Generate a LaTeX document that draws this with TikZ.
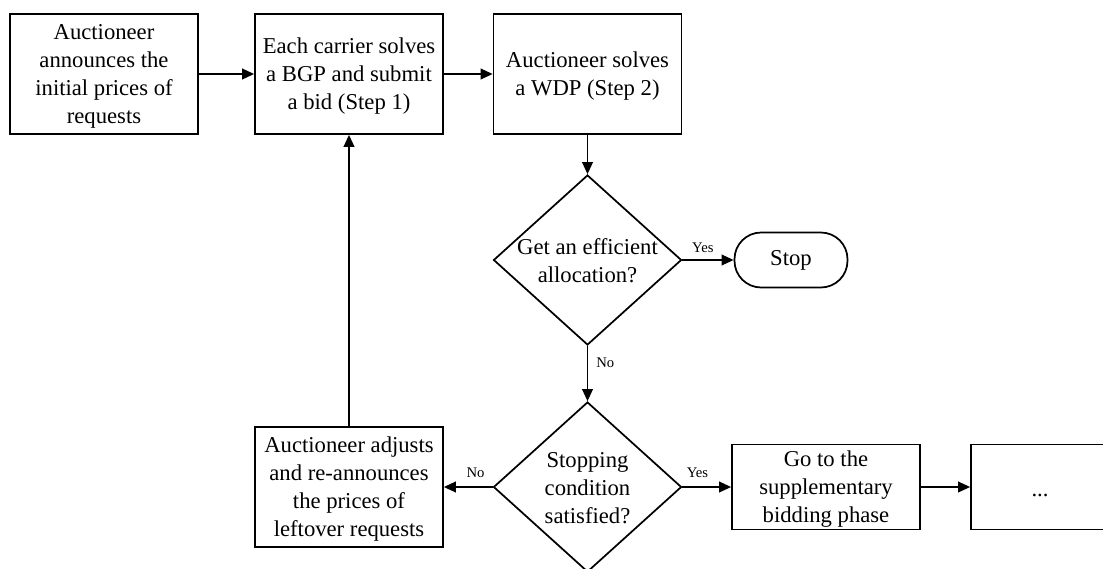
\documentclass[tikz,border=0pt]{standalone}
\usepackage{fontspec}
\setmainfont{Liberation Serif}
\usetikzlibrary{shapes.geometric,arrows.meta}
\begin{document}
\begin{tikzpicture}[x=0.75pt,y=-0.75pt,
  box/.style={draw, line width=1.3pt, minimum width=141pt, minimum height=90pt, inner sep=0pt, align=center, text depth=-1pt, font=\fontsize{17}{21}\selectfont},
  smallbox/.style={box, minimum height=63.75pt},
  decision/.style={draw, diamond, line width=1.3pt, minimum width=141pt, minimum height=127.5pt, inner sep=0pt},
  dtext/.style={align=center, font=\fontsize{17}{21}\selectfont, inner sep=0pt},
  terminal/.style={draw, line width=1.3pt, rounded corners=20pt, minimum width=84.75pt, minimum height=41.25pt, inner sep=0pt, font=\fontsize{17}{21}\selectfont},
  lbl/.style={font=\fontsize{11}{13}\selectfont, inner sep=0pt},
  arr/.style={line width=1.3pt, -{Triangle[length=9pt,width=8pt]}}
]
\useasboundingbox (0,0) rectangle (1103,568);
\node[box] (b1) at (104,74) {Auctioneer\\announces the\\initial prices of\\requests};
\node[box] (b2) at (349,74) {Each carrier solves\\a BGP and submit\\a bid (Step 1)};
\node[box] (b3) at (587.5,74) {Auctioneer solves\\a WDP (Step 2)};
\node[decision] (d1) at (587.5,260) {};
\node[dtext] (d1t) at (587.5,261) {Get an efficient\\allocation?};
\node[terminal] (stop) at (791,260) {Stop};
\node[decision] (d2) at (587.5,487) {};
\node[dtext] (d2t) at (587.5,488) {Stopping\\condition\\satisfied?};
\node[box] (adj) at (349,487) {Auctioneer adjusts\\and re-announces\\the prices of\\leftover requests};
\node[smallbox] (sup) at (826,487) {Go to the\\supplementary\\bidding phase};
\node[smallbox, minimum width=103.5pt] (dots) at (1040,487) {\strut...};

\draw[arr] (b1) -- (b2);
\draw[arr] (b2) -- (b3);
\draw[arr] (b3.south) -- (d1.north);
\draw[arr] (d1.east) -- node[lbl, pos=0.4, above=5pt] (y1) {Yes} (stop.west);
\draw[arr] (d1.south) -- node[lbl, pos=0.3, right=6pt] (n1) {No} (d2.north);
\draw[arr] (d2.west) -- node[lbl, pos=0.35, above=6pt] (n2) {No} (adj.east);
\draw[arr] (d2.east) -- node[lbl, pos=0.31, above=6pt] (y2) {Yes} (sup.west);
\draw[arr] (sup) -- (dots);
\draw[arr] (adj.north) -- (b2.south);
\end{tikzpicture}
\end{document}
